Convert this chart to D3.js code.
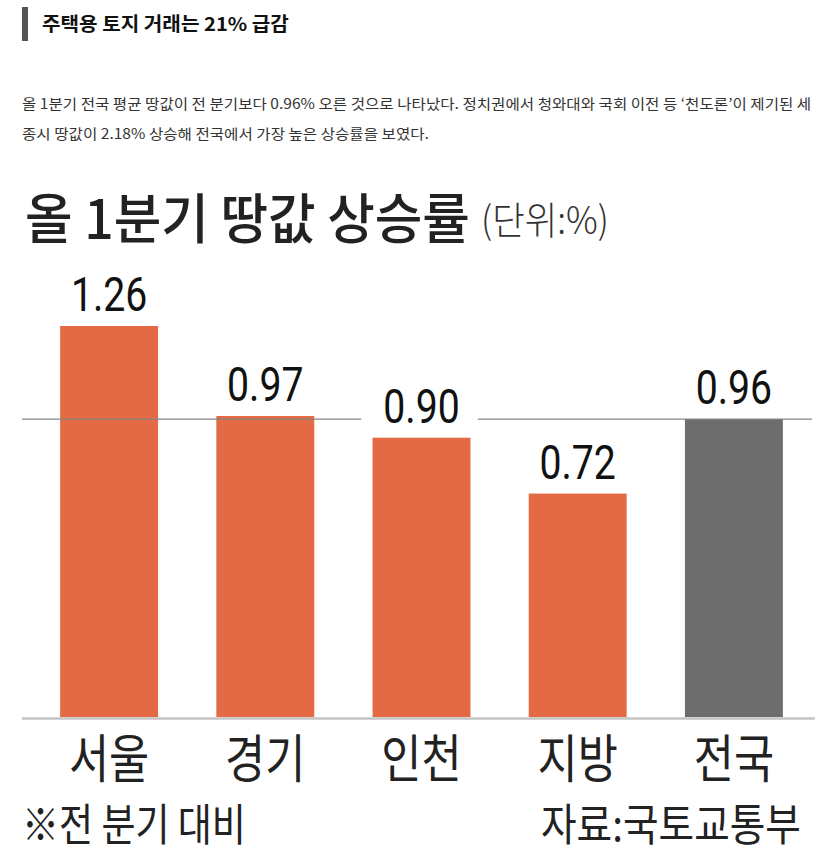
<!DOCTYPE html>
<html><head><meta charset="utf-8">
<script src="https://cdn.jsdelivr.net/npm/d3@7/dist/d3.min.js"></script>
<style>
html,body{margin:0;padding:0;background:#fff;}
svg{display:block;}
</style></head>
<body>
<svg id="c" width="839" height="865"></svg>
<script>
const headline = "주택용 토지 거래는 21% 급감";
const paragraph = [
  "올 1분기 전국 평균 땅값이 전 분기보다 0.96% 오른 것으로 나타났다. 정치권에서 청와대와 국회 이전 등 ‘천도론’이 제기된 세",
  "종시 땅값이 2.18% 상승해 전국에서 가장 높은 상승률을 보였다."
];
const chartTitle = "올 1분기 땅값 상승률";
const unitLabel = "(단위:%)";
const categories = ["서울", "경기", "인천", "지방", "전국"];
const values = [1.26, 0.97, 0.90, 0.72, 0.96];
const valueLabels = ["1.26", "0.97", "0.90", "0.72", "0.96"];
const referenceValue = 0.96;
const footnote = "※전 분기 대비";
const source = "자료:국토교통부";

const svg = d3.select("#c");
const KR = "'Noto Sans CJK KR','Noto Sans',sans-serif";
const NUM = "Roboto,'Liberation Sans',sans-serif";

function squeeze(t, sx, ax){
  t.attr("transform", `translate(${ax},0) scale(${sx},1) translate(${-ax},0)`);
}
function fit(t, w, ax){
  const L = t.node().getBBox().width;
  squeeze(t, w / L, ax);
  return w / L;
}

// headline
svg.append("rect").attr("x", 22).attr("y", 7).attr("width", 6).attr("height", 34).attr("fill", "#555");
const hl = svg.append("text").attr("x", 42).attr("y", 31).attr("font-family", KR).attr("font-weight", 700)
  .attr("font-size", 19).attr("fill", "#111").text(headline);
fit(hl, 247, 42);

// paragraph
const p1 = svg.append("text").attr("x", 22).attr("y", 109).attr("font-family", KR)
  .attr("font-size", 14).attr("fill", "#333").text(paragraph[0]);
const ps = fit(p1, 790, 22);
const p2 = svg.append("text").attr("x", 22).attr("y", 139).attr("font-family", KR)
  .attr("font-size", 14).attr("fill", "#333").text(paragraph[1]);
squeeze(p2, ps, 22);

// chart title
const ct = svg.append("text").attr("x", 25).attr("y", 239).attr("font-family", KR).attr("font-weight", 500)
  .attr("font-size", 54).attr("fill", "#222").text(chartTitle);
fit(ct, 445, 25);
const ut = svg.append("text").attr("x", 481).attr("y", 234).attr("font-family", KR).attr("font-weight", 300)
  .attr("font-size", 38).attr("fill", "#333").text(unitLabel);
fit(ut, 128, 481);

// scales
const x = d3.scaleBand().domain(categories).range([31, 812]).paddingInner(0.373).paddingOuter(0.1865);
const y = d3.scaleLinear().domain([0, 1.26]).range([717, 326]);

const data = categories.map((c, i) => ({c, v: values[i], label: valueLabels[i]}));

// bars
svg.append("g").selectAll("rect").data(data).join("rect")
  .attr("x", d => x(d.c)).attr("width", x.bandwidth())
  .attr("y", d => y(d.v)).attr("height", d => y(0) - y(d.v))
  .attr("fill", d => d.c === "전국" ? "#6d6d6d" : "#e36a44");

// baseline
svg.append("line").attr("x1", 22).attr("x2", 815).attr("y1", y(0) + 1.5).attr("y2", y(0) + 1.5)
  .attr("stroke", "#c4c4c4").attr("stroke-width", 2.5);

// reference line
svg.append("line").attr("x1", 22).attr("x2", 812).attr("y1", y(referenceValue)).attr("y2", y(referenceValue))
  .attr("stroke", "#858585").attr("stroke-width", 1.3);

// value labels with white knockout
const lg = svg.append("g");
data.forEach(d => {
  const cx = x(d.c) + x.bandwidth() / 2;
  const by = y(d.v) - 15;
  const g = lg.append("g");
  const bg = g.append("rect").attr("fill", "#fff");
  const t = g.append("text").attr("x", cx).attr("y", by).attr("text-anchor", "middle")
    .attr("font-family", NUM).attr("font-weight", 400).attr("font-size", 49).attr("fill", "#111")
    .text(d.label);
  squeeze(t, 0.8, cx);
  const bb = t.node().getBBox();
  const w = bb.width * 0.8;
  bg.attr("x", cx - w / 2 - 22).attr("width", w + 40).attr("y", by - 36).attr("height", 42);
  const ry = y(referenceValue);
  if (!(ry > by - 36 && ry < by + 6)) bg.remove();
});

// category labels
svg.append("g").selectAll("text").data(data).join("text")
  .attr("x", d => x(d.c) + x.bandwidth() / 2).attr("y", 778).attr("text-anchor", "middle")
  .attr("font-family", KR).attr("font-size", 52).attr("fill", "#222").text(d => d.c)
  .each(function(d){ squeeze(d3.select(this), 0.84, x(d.c) + x.bandwidth() / 2); });

// footer
const fn = svg.append("text").attr("x", 22).attr("y", 841).attr("font-family", KR)
  .attr("font-size", 44).attr("fill", "#222").text(footnote);
fit(fn, 224, 22);
const sr = svg.append("text").attr("x", 541).attr("y", 841).attr("font-family", KR)
  .attr("font-size", 44).attr("fill", "#222").text(source);
fit(sr, 260, 541);
</script>
</body></html>
